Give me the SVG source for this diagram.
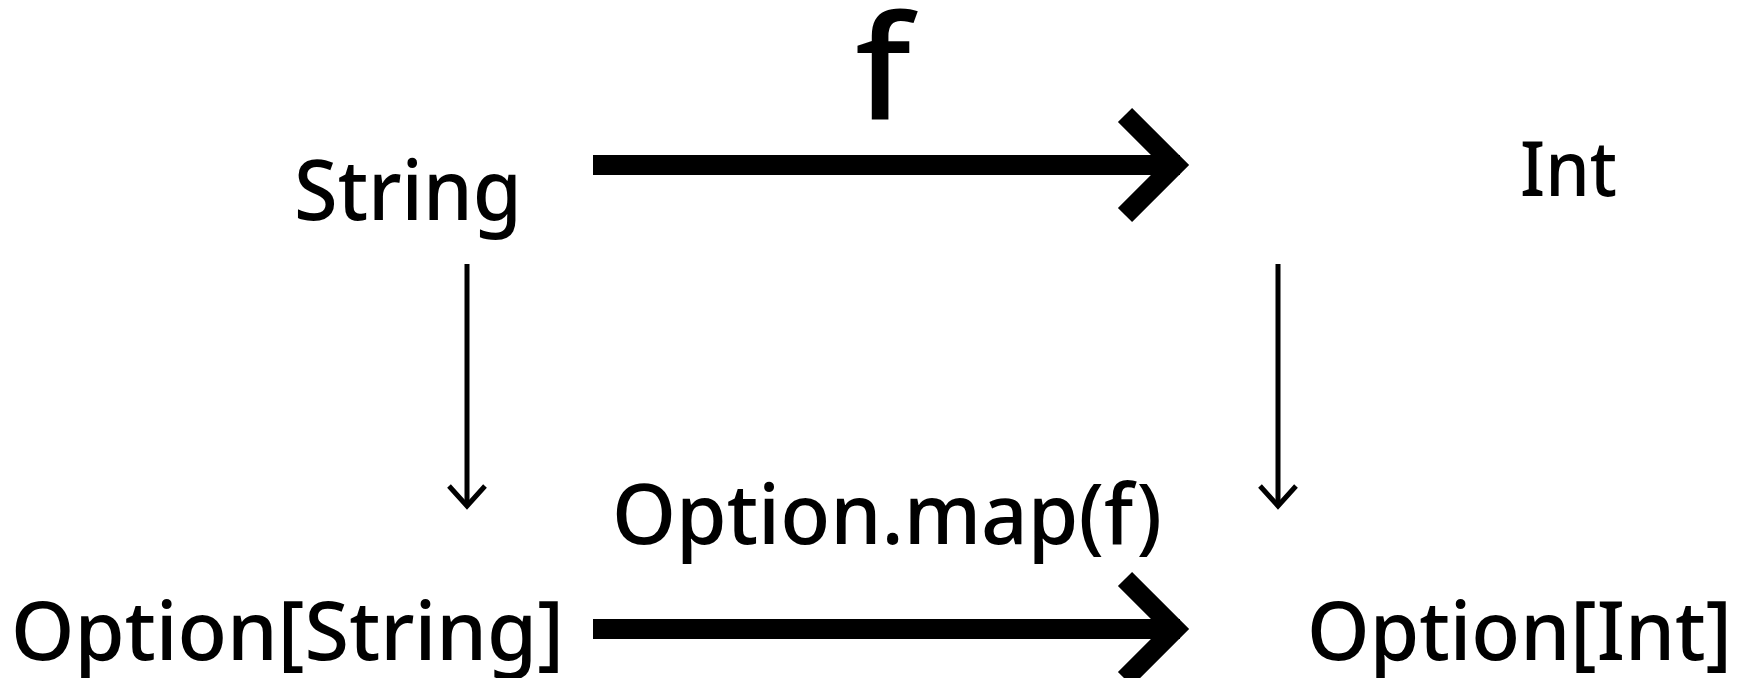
<svg xmlns="http://www.w3.org/2000/svg" width="1752" height="678" viewBox="0 0 1752 678">
<style>
text{font-family:"Noto Sans","DejaVu Sans",sans-serif;font-weight:500;fill:#000}
.thick{stroke:#000;stroke-width:20;fill:none}
.thin{stroke:#000;stroke-width:5;fill:none}
</style>
<rect width="1752" height="678" fill="#fff"/>
<g id="node-string"><text x="294" y="220" font-size="84" textLength="228" lengthAdjust="spacingAndGlyphs">String</text></g>
<g id="node-int"><text x="1520" y="196" font-size="76" textLength="97" lengthAdjust="spacingAndGlyphs">Int</text></g>
<g id="node-option-string"><text x="11" y="660" font-size="82" textLength="553" lengthAdjust="spacingAndGlyphs">Option[String]</text></g>
<g id="node-option-int"><text x="1307" y="660" font-size="82" textLength="425" lengthAdjust="spacingAndGlyphs">Option[Int]</text></g>
<g id="connectors">
<line class="thick" x1="593" y1="165" x2="1180" y2="165"/>
<polyline class="thick" points="1125,115 1175,165 1125,215"/>
<text x="855" y="120" font-size="145" textLength="56" lengthAdjust="spacingAndGlyphs">f</text>
<line class="thick" x1="593" y1="629" x2="1180" y2="629"/>
<polyline class="thick" points="1125,579 1175,629 1125,679"/>
<text x="612" y="544" font-size="84" textLength="550" lengthAdjust="spacingAndGlyphs">Option.map(f)</text>
<line class="thin" x1="467" y1="264" x2="467" y2="506"/>
<polyline class="thin" points="449,486 467,506 485,486"/>
<line class="thin" x1="1278" y1="264" x2="1278" y2="506"/>
<polyline class="thin" points="1260,486 1278,506 1296,486"/>
</g>
</svg>
